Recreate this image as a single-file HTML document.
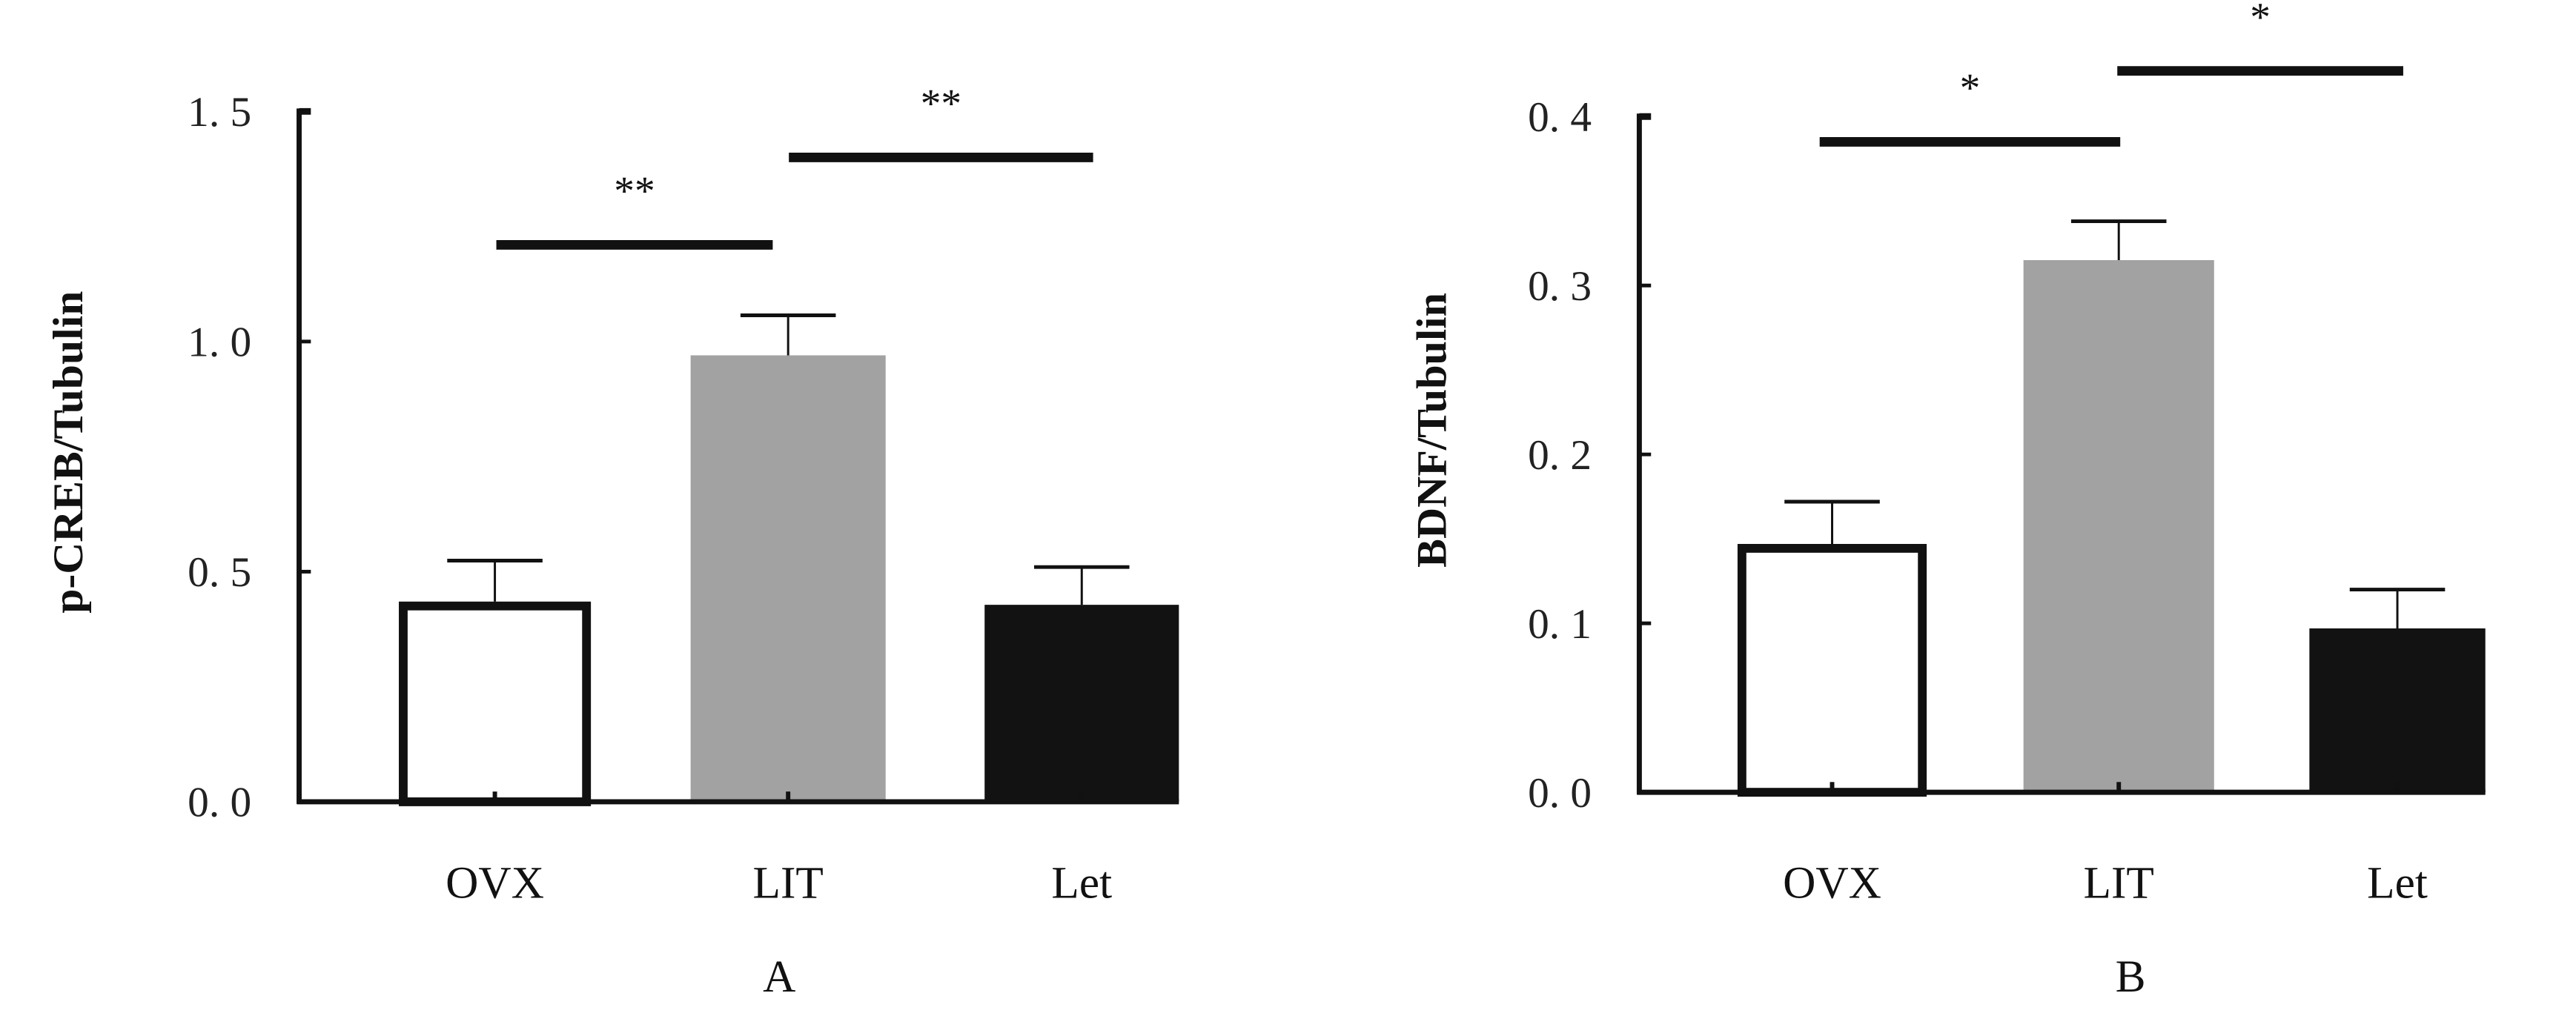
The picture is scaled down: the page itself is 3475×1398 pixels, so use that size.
<!DOCTYPE html>
<html><head><meta charset="utf-8"><style>html,body{margin:0;padding:0;background:#fff}svg{display:block}</style></head>
<body>
<svg id="chart" width="3475" height="1398" viewBox="0 0 3475 1398" xmlns="http://www.w3.org/2000/svg"><g id="root" transform="scale(0.989)"></g></svg>
<script>
const categories = ["OVX", "LIT", "Let"];
const valuesA = [0.435, 0.97, 0.428];
const errorsA = [0.089, 0.087, 0.082];
const valuesB = [0.147, 0.315, 0.097];
const errorsB = [0.025, 0.023, 0.023];
const ticksA = [0, 0.5, 1.0, 1.5];
const tickLabelsA = ["0. 0", "0. 5", "1. 0", "1. 5"];
const ticksB = [0, 0.1, 0.2, 0.3, 0.4];
const tickLabelsB = ["0. 0", "0. 1", "0. 2", "0. 3", "0. 4"];
const sigA = [{from:0,to:1,y:1.21,label:"**"},{from:1,to:2,y:1.40,label:"**"}];
const sigB = [{from:0,to:1,y:0.385,label:"*"},{from:1,to:2,y:0.427,label:"*"}];

const NS = "http://www.w3.org/2000/svg";
const svg = document.getElementById("root");
function mk(tag, attrs, parent, text) {
  const e = document.createElementNS(NS, tag);
  for (const k in attrs) e.setAttribute(k, attrs[k]);
  if (text !== undefined) e.textContent = text;
  (parent || svg).appendChild(e);
  return e;
}
const fills = ["#fff", "#a2a2a2", "#121212"];

function panel(cfg) {
  const g = mk("g", {});
  
  
  const y = v => cfg.y0 - (v / cfg.max) * (cfg.y0 - cfg.yTop);
  cfg.vals.forEach((v, i) => {
    const [x1, x2] = cfg.bars[i];
    const cx = (x1 + x2) / 2;
    let r;
    if (i === 0) {
      r = mk("rect", {x: x1 + 6, y: y(v) + 6, width: x2 - x1 - 12, height: cfg.y0 - y(v) - 6, fill: "#fff", stroke: "#111", "stroke-width": 12}, g);
    } else {
      r = mk("rect", {x: x1, y: y(v), width: x2 - x1, height: cfg.y0 - y(v), fill: fills[i]}, g);
    }
    
    
    const top = y(v + cfg.errs[i]);
    const eb = mk("line", {x1: cx, x2: cx, y1: y(v), y2: top, stroke: "#111", "stroke-width": 3}, g);
    
    
    const cap = mk("line", {x1: cx - 65, x2: cx + 65, y1: top, y2: top, stroke: "#111", "stroke-width": 5}, g);
    
    
    const xt = mk("line", {x1: cx, x2: cx, y1: cfg.y0, y2: cfg.y0 - 14, stroke: "#111", "stroke-width": 6}, g);
    
    
    const lbl = mk("text", {x: cx, y: 1225, "text-anchor": "middle", "font-family": "Liberation Serif, serif", "font-size": 62, fill: "#111"}, g, categories[i]);
    
    
  });
  const ya = mk("line", {x1: cfg.ax, x2: cfg.ax, y1: cfg.yTop - 4, y2: cfg.y0 + 3, stroke: "#111", "stroke-width": 7}, g);
  
  
  const xa = mk("line", {x1: cfg.ax - 3, x2: cfg.axEnd, y1: cfg.y0, y2: cfg.y0, stroke: "#111", "stroke-width": 7}, g);
  
  
  cfg.ticks.forEach((t, i) => {
    const tk = mk("line", {x1: cfg.ax, x2: cfg.ax + 16, y1: y(t), y2: y(t), stroke: "#111", "stroke-width": i === cfg.ticks.length - 1 ? 9 : 5}, g);
    
    
    const tl = mk("text", {x: cfg.ax - 65, y: y(t) + 20, "text-anchor": "end", "font-family": "Liberation Serif, serif", "font-size": 58, fill: "#222"}, g, cfg.tickLabels[i]);
    
    
  });
  cfg.sig.forEach(s => {
    const sx1 = cfg.sigX[s.from][0], sx2 = cfg.sigX[s.from][1];
    const ln = mk("line", {x1: sx1, x2: sx2, y1: y(s.y), y2: y(s.y), stroke: "#111", "stroke-width": 13}, g);
    
    
    const st = mk("text", {x: (sx1 + sx2) / 2, y: y(s.y) - 55, "text-anchor": "middle", "font-family": "Liberation Serif, serif", "font-size": 56, fill: "#111"}, g, s.label);
    
    
  });
  const yt = mk("text", {x: 0, y: 0, transform: `translate(${cfg.titleX},${cfg.titleY}) rotate(-90)`, "text-anchor": "middle", "font-family": "Liberation Serif, serif", "font-size": 58, "font-weight": "bold", fill: "#111", textLength: cfg.titleLen, lengthAdjust: "spacingAndGlyphs"}, g, cfg.title);
  
  
  const pl = mk("text", {x: cfg.letterX, y: 1353, "text-anchor": "middle", "font-family": "Liberation Serif, serif", "font-size": 62, fill: "#111"}, g, cfg.letter);
  
  
}

panel({name: "panel-a", vals: valuesA, errs: errorsA, max: 1.5, y0: 1094, yTop: 152, ax: 408, axEnd: 1608,
  bars: [[544, 806], [942, 1208], [1343, 1608]], ticks: ticksA, tickLabels: tickLabelsA, sig: sigA,
  sigX: [[677, 1054], [1076, 1491]], title: "p-CREB/Tubulin", titleX: 112, titleY: 617, titleLen: 440, letter: "A", letterX: 1063});
panel({name: "panel-b", vals: valuesB, errs: errorsB, max: 0.4, y0: 1081, yTop: 159, ax: 2236, axEnd: 3390,
  bars: [[2370, 2628], [2760, 3020], [3150, 3390]], ticks: ticksB, tickLabels: tickLabelsB, sig: sigB,
  sigX: [[2482, 2892], [2888, 3278]], title: "BDNF/Tubulin", titleX: 1972, titleY: 587, titleLen: 375, letter: "B", letterX: 2906});
</script>
</body></html>
